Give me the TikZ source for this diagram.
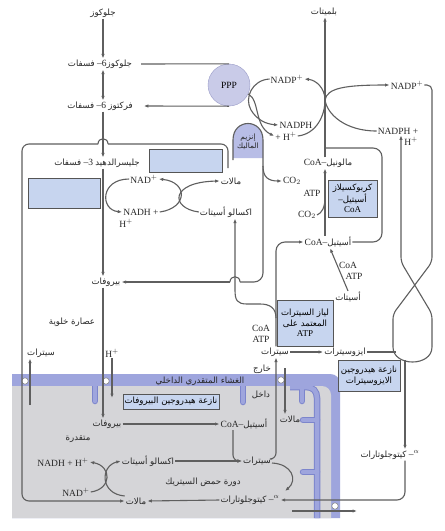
\documentclass[tikz,border=0pt]{standalone}
\usepackage{fontspec}
\setmainfont{Liberation Serif}
\newfontfamily\arfont[Script=Arabic]{DejaVu Sans}
\TeXXeTstate=1
\usetikzlibrary{arrows.meta}
\newcommand\artxt[1]{{\arfont\fontsize{8.6}{10}\selectfont\beginR #1\endR}}
\newcommand\artxs[1]{{\arfont\fontsize{7.4}{9}\selectfont\beginR #1\endR}}
\definecolor{lc}{HTML}{5F5F5F}
\definecolor{enzf}{HTML}{C7D5EF}
\definecolor{enzd}{HTML}{555555}
\definecolor{pppf}{HTML}{C9CBE8}
\definecolor{pppd}{HTML}{9A9CC8}
\definecolor{mef}{HTML}{B8BDE6}
\definecolor{band}{HTML}{9EA5DD}
\definecolor{bandd}{HTML}{7C85CC}
\definecolor{mgray}{HTML}{D5D5D8}
\tikzset{
  ln/.style={draw=lc, line width=1.1pt},
  ar/.style={ln, -{Latex[length=4.5pt,width=3.4pt]}},
  dar/.style={ln, {Latex[length=4.5pt,width=3.4pt]}-{Latex[length=4.5pt,width=3.4pt]}},
  tx/.style={inner sep=1pt, font=\fontsize{9.5}{11}\selectfont, text=black!85},
  enz/.style={draw=enzd, fill=enzf, line width=0.6pt, align=center, inner sep=1pt, font=\fontsize{9}{10.5}\selectfont},
  crista/.style={line width=6.5pt, draw=bandd, line cap=round},
  cristb/.style={line width=4.5pt, draw=band, line cap=round},
}
\begin{document}
\begin{tikzpicture}[x=1pt,y=-1pt]
\useasboundingbox (0,0) rectangle (445,531);
\fill[white] (0,0) rectangle (445,531);
% mitochondrion
\fill[band] (12,518) -- (12,374) -- (330,374) .. controls (336,374) and (340,378) .. (340,384) -- (340,518) -- cycle;
\fill[mgray] (12,518) -- (12,386) -- (322,386) .. controls (327,386) and (331,390) .. (331,395) -- (331,518) -- cycle;
\draw[crista] (95,386) -- (95,401) (243,386) -- (243,402) (302,386) -- (302,401) (317,420) -- (303,420) (317,472) -- (303,472);
\draw[line width=6.5pt, draw=bandd] (290,387) -- (306,387) .. controls (313,387) and (317,391) .. (317,398) -- (317,518);
\draw[cristb] (95,386) -- (95,401) (243,386) -- (243,402) (302,386) -- (302,401) (317,420) -- (303,420) (317,472) -- (303,472);
\draw[line width=4.5pt, draw=band] (290,387) -- (306,387) .. controls (313,387) and (317,391) .. (317,398) -- (317,518);
\fill[band] (12,374) rectangle (331,386);
\foreach \p in {(25,381),(106,381),(281,380),(335,506)} \draw[fill=white, draw=gray, line width=0.5pt] \p circle[radius=3.2pt];

% coordinates
\coordinate (gx) at (103,0);
\coordinate (fx) at (325,0);
\coordinate (ox) at (235,0);
\coordinate (ax) at (276,0);
\coordinate (kx) at (405,0);
\coordinate (rx) at (401,0);
\coordinate (fxm) at (325,100);

% text nodes
\node[tx] (glc) at (103,13) {\artxt{جلوكوز}};
\node[tx] (g6p) at (100,64) {\artxt{فسفات} –6\artxt{جلوكوز}};
\node[tx] (f6p) at (100,106) {\artxt{فسفات} –6 \artxt{فركتوز}};
\node[tx] (g3p) at (97,163) {\artxt{فسفات} –3 \artxt{جليسرالدهيد}};
\node[tx] (pyr) at (106,282) {\artxt{بيروفات}};
\node[tx] (cyt) at (72,322) {\artxt{عصارة خلوية}};
\node[tx] (nad) at (144,179) {NAD$^+$};
\node[tx] (nadh) at (141,212) {NADH +};
\node[tx] (hc) at (126,223) {H$^+$};
\node[tx] (mal) at (231,181) {\artxt{مالات}};
\node[tx] (oaa) at (226,212) {\artxt{اكسالو أسيتات}};
\node[tx] (co2a) at (292,181) {CO$_2$};
\node[tx] (atpa) at (312,193) {ATP};
\node[tx] (co2b) at (307,215) {CO$_2$};
\node[tx] (malcoa) at (328,163) {CoA–\artxt{مالونيل}};
\node[tx] (palm) at (324,12) {\artxt{بلميتات}};
\node[tx] (nadpl) at (287,79) {NADP$^+$};
\node[tx] (nadphl) at (296,125) {NADPH};
\node[tx] (hl) at (286,136) {+ H$^+$};
\node[tx] (nadpr) at (407,85) {NADP$^+$};
\node[tx] (nadphr) at (398,131) {NADPH +};
\node[tx] (hr) at (411,141) {H$^+$};
\node[tx] (accoa) at (328,242) {CoA–\artxt{أسيتيل}};
\node[tx] (coab) at (348,265) {CoA};
\node[tx] (atpb) at (354,276) {ATP};
\node[tx] (acet) at (348,297) {\artxt{أسيتات}};
\node[tx] (coac) at (261,328) {CoA};
\node[tx] (atpc) at (261,339) {ATP};
\node[tx] (cit) at (275,352) {\artxt{سيترات}};
\node[tx] (icit) at (345,352) {\artxt{ايزوسيترات}};
\node[tx] (akgc) at (390,455) {\artxt{كيتوجلوتارات} –$^{\alpha}$};
\node[tx] (citl) at (41,353) {\artxt{سيترات}};
\node[tx] (hp) at (112,353) {H$^+$};
\node[tx] (outs) at (262,369) {\artxt{خارج}};
\node[tx] (imm) at (200,381) {\artxt{الغشاء المتقدري الداخلي}};
\node[tx] (inn) at (261,395) {\artxt{داخل}};
\node[tx] (malt) at (290,419) {\artxt{مالات}};
\node[tx] (pyrm) at (107,424) {\artxt{بيروفات}};
\node[tx] (accm) at (244,424) {CoA–\artxt{أسيتيل}};
\node[tx] (mito) at (78,439) {\artxt{متقدرة}};
\node[tx] (nadhm) at (63,462) {NADH + H$^+$};
\node[tx] (oaam) at (148,461) {\artxt{اكسالو أسيتات}};
\node[tx] (citm) at (257,461) {\artxt{سيترات}};
\node[tx] (tca) at (203,482) {\artxt{دورة حمض السيتريك}};
\node[tx] (nadm) at (76,492) {NAD$^+$};
\node[tx] (malm) at (136,501) {\artxt{مالات}};
\node[tx] (akgm) at (250,500) {\artxt{كيتوجلوتارات} –$^{\alpha}$};

% enzyme boxes
\node[enz, minimum width=49pt, minimum height=37pt] (acc) at (352.5,198.5) {\artxt{كربوكسيلاز}\\–\artxt{أسيتيل}\\CoA};
\node[enz, minimum width=56pt, minimum height=46pt] (acl) at (305,323) {\artxt{لياز السيترات}\\\artxt{المعتمد على}\\ATP};
\node[enz, minimum width=62pt, minimum height=31pt] (idh) at (369,376) {\artxt{نازعة هيدروجين}\\\artxt{الايزوسيترات}};
\node[enz, minimum width=96pt, minimum height=15pt] (pdh) at (171,401.5) {\artxt{نازعة هيدروجين البيروفات}};
\node[enz, minimum width=73pt, minimum height=23pt] (e1) at (185.5,160.5) {};
\node[enz, minimum width=72pt, minimum height=30pt] (e2) at (64,193) {};
\node[circle, draw=pppd, fill=pppf, minimum size=42pt, inner sep=0pt, font=\fontsize{9.5}{11}\selectfont] (ppp) at (229,85) {PPP};

% malic enzyme
\fill[mef] (233,158) -- (233,140) .. controls (233,118) and (263,118) .. (263,140) -- (263,158) -- cycle;
\draw[ln] (233,160) -- (233,140) .. controls (233,118) and (263,118) .. (263,140);
\node[tx, align=center] (me) at (248,142) {\artxs{إنزيم}\\[-2pt]\artxs{الماليك}};

% glycolysis
\draw[ar] (glc.south) -- (glc.south |- g6p.north);
\draw[dar] (g6p.south -| gx) -- (f6p.north -| gx);
\draw[ar] (f6p.south -| gx) -- (g3p.north -| gx);
\draw[ar] (g3p.south -| gx) -- (pyr.north -| gx);
\draw[ar] (pyr.south -| gx) -- (pyrm.north -| gx);
\draw[ln] ([xshift=8pt]g6p.east) -- (ppp.north);
\draw[ar] (ppp.south) -- ([xshift=10pt]f6p.east);
\draw[ar] (nad.west) .. controls (100,179) and (100,210) .. (nadh.west);
\draw[ar] (nadh.east) .. controls (188,208) and (188,182) .. (nad.east);
\draw[ar] (oaa.west) .. controls (170,208) and (170,182) .. (mal.west);

% malate top line to mitochondria
\coordinate (mtop) at (228,168);
\draw[ln, rounded corners=7pt] (mtop) -- (228,144) -- (108,144);
\draw[ln] (108,144) .. controls (108,137) and (98,137) .. (98,144);
\draw[ar, rounded corners=7pt] (98,144) -- (22,144) -- (22,501) -- (malm.west);

% malic enzyme products
\draw[ln, rounded corners=9pt] (263,140) -- (263,282) -- (240,282);
\draw[ln] (240,282) .. controls (240,275) and (230,275) .. (230,282);
\draw[ar] (230,282) -- (pyr.east);
\draw[ar] (263,166) .. controls (263,177) and (268,181) .. (co2a.west);

% ATP citrate lyase
\draw[ar, rounded corners=9pt] (cit.north -| ax) -- (ax |- accoa) -- (accoa.west);
\draw[ar] (276,318) .. controls (276,308) and (270,304) .. (260,304) -- (247,304) .. controls (237,304) and (235,300) .. (235,290) -- (oaa.south -| ox);
\draw[ar] (acet.north) -- ([xshift=2pt]accoa.south);

% fatty acid synthesis
\draw[ar] (accoa.north -| fx) -- (malcoa.south -| fx);
\draw[ln] (co2b.east) .. controls (322,213) and (325,207) .. (325,198);
\draw[ar] (malcoa.north -| fx) -- (palm.south -| fx);
\draw[ln, rounded corners=9pt] (accoa.east) -- (382,242) -- (382,148) -- (325,148);
\draw[ar] (hl.east) .. controls (316,134) and (325,116) .. (fxm) .. controls (325,88) and (316,80) .. (nadpl.east);
\draw[ar] (fxm) .. controls (327,88) and (345,85) .. (nadpr.west);
\draw[ln] (fxm) .. controls (327,114) and (345,131) .. (nadphr.west);

% PPP NADPH
\draw[ar] (nadpl.west) .. controls (252,80) and (244,98) .. (251,110) .. controls (257,120) and (266,124) .. (nadphl.west);
\draw[ar] (ppp.-25) .. controls (260,100) and (254,126) .. (hl.west);

% isocitrate loop
\coordinate (bl) at (396,352);
\coordinate (bb) at (405,360);
\draw[ar, rounded corners=5pt] (nadpr.east) -- (432,85) -- (432,262) -- (393,314) -- (393,342) .. controls (393,367) and (432,367) .. (432,342) -- (432,314) -- (401,262) -- (nadphr.south -| rx);
\draw[ar] (cit.east) -- (icit.west);
\draw[ln] (icit.east) -- (bl);
\draw[ar] (bb) -- (akgc.north -| kx);
\draw[ar, rounded corners=8pt] (akgc.south -| kx) -- (kx |- akgm) -- (akgm.east);
\coordinate (o1) at (292,511);
\coordinate (o2) at (357,511);
\draw[ar] (o1) -- (o2);

% membrane transport
\draw[ar, rounded corners=6pt] ([yshift=2pt]citm.east) -| (cit.south -| ax);
\coordinate (mt1) at (285,368);
\draw[ar] (mt1) -- (malt.north -| mt1);
\coordinate (cl1) at (30,405);
\draw[ar] (cl1) -- (citl.south -| cl1);
\coordinate (hp2) at (112,398);
\draw[ar] (hp.south) -- (hp.south |- hp2);

% mitochondrial reactions
\draw[ar] (pyrm.east) -- (accm.west);
\draw[ar, rounded corners=6pt] ([xshift=-11pt]accm.south) |- (citm.west);
\draw[ar] (oaam.east) -- (citm.west);
\coordinate (ak1) at (285,491);
\draw[ar] ([yshift=-2pt]citm.east) .. controls (292,464) and (298,480) .. (ak1);
\draw[ar] (akgm.west) -- (malm.east);
\draw[ar] (nadm.east) .. controls (112,489) and (112,466) .. (nadhm.east);
\draw[ar] ([yshift=5pt]malm.west) .. controls (100,494) and (100,466) .. (oaam.west);
\end{tikzpicture}
\end{document}
